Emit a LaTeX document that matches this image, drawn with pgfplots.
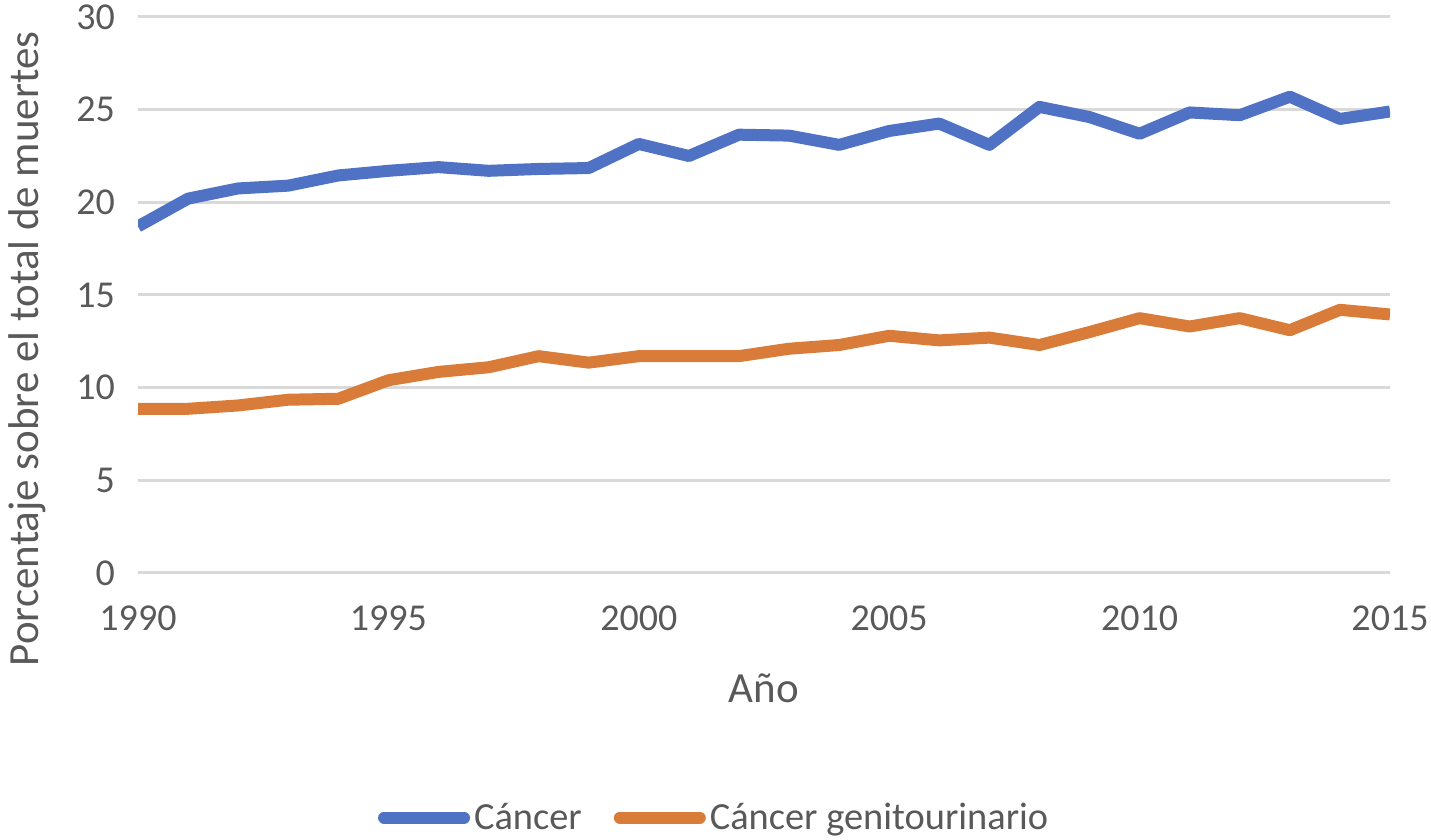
\documentclass[border=0pt]{standalone}
\usepackage{fontspec}
\setmainfont{Carlito}
\usepackage{pgfplots}
\pgfplotsset{compat=1.18}

\definecolor{cblue}{HTML}{4F72C4}
\definecolor{corange}{HTML}{D97C39}
\definecolor{gridgray}{HTML}{D9D9D9}
\definecolor{txtgray}{HTML}{595959}

\begin{document}
\begin{tikzpicture}
\path[use as bounding box] (0,0) rectangle (715.5pt,420pt);
\begin{axis}[
    at={(69pt,133.5pt)}, anchor=south west,
    width=626pt, height=278pt, scale only axis,
    xmin=1990, xmax=2015, ymin=0, ymax=30,
    xtick={1990,1995,...,2015}, ytick={0,5,...,30},
    xticklabel style={/pgf/number format/1000 sep={}},
    /pgf/number format/assume math mode=true,
    axis line style={draw=none},
    tick style={draw=none},
    ymajorgrids, grid style={gridgray, line width=1.5pt},
    ticklabel style={font=\fontsize{19}{22}\selectfont, text=txtgray},
    xticklabel style={yshift=-13pt},
    yticklabel style={xshift=-8pt},
    xlabel={Año}, ylabel={Porcentaje sobre el total de muertes},
    label style={font=\fontsize{21.5}{25}\selectfont, text=txtgray},
    xlabel style={at={(rel axis cs:0.5,-0.207)}, anchor=center},
    ylabel style={at={(rel axis cs:-0.0887,0.403)}, anchor=center},
    legend style={at={(rel axis cs:0.461,-0.44)}, anchor=center, draw=none,
        font=\fontsize{19.2}{22}\selectfont, text=txtgray,
        /tikz/every even column/.append style={column sep=14pt}},
    legend columns=2,
    legend image code/.code={\draw[#1, line cap=round] (3pt,0pt) -- (43pt,0pt);},
    legend cell align=left,
]
\addplot[cblue, line width=6pt, line join=round] coordinates {
(1990,18.7) (1991,20.2) (1992,20.75) (1993,20.9) (1994,21.45) (1995,21.7)
(1996,21.9) (1997,21.7) (1998,21.8) (1999,21.85) (2000,23.15) (2001,22.5)
(2002,23.65) (2003,23.6) (2004,23.1) (2005,23.85) (2006,24.25) (2007,23.1)
(2008,25.15) (2009,24.6) (2010,23.7) (2011,24.85) (2012,24.7) (2013,25.7)
(2014,24.5) (2015,24.9)
};
\addlegendentry{Cáncer}
\addplot[corange, line width=6pt, line join=round] coordinates {
(1990,8.86) (1991,8.86) (1992,9.04) (1993,9.35) (1994,9.4) (1995,10.4)
(1996,10.85) (1997,11.1) (1998,11.7) (1999,11.35) (2000,11.7) (2001,11.7)
(2002,11.7) (2003,12.1) (2004,12.3) (2005,12.8) (2006,12.55) (2007,12.7)
(2008,12.3) (2009,13.0) (2010,13.75) (2011,13.3) (2012,13.75) (2013,13.1)
(2014,14.2) (2015,13.95)
};
\addlegendentry{Cáncer genitourinario}
\end{axis}
\end{tikzpicture}
\end{document}
